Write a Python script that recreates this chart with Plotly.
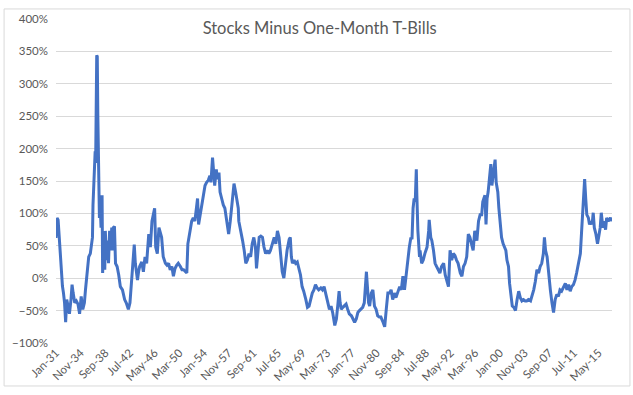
import plotly.graph_objects as go

# Months since Jan-1931 (end of 5-year window) and excess return (%)
month_offsets = [
    0, 2, 4, 6, 7, 10, 12, 14, 16, 18, 20, 23, 25, 28, 30, 32, 35, 38, 41, 44, 47, 50, 53, 55, 58,
    60, 61, 64, 66, 68, 69, 70, 72, 73, 74, 76, 77, 78, 79, 81, 82, 84, 86, 87, 89, 91, 92, 94, 96,
    98, 100, 102, 104, 105, 107, 109, 111, 114, 117, 120, 124, 128, 131, 135, 138, 141, 143, 146,
    148, 150, 152, 154, 156, 160, 163, 166, 169, 173, 176, 179, 182, 184, 186, 189, 192, 194, 197,
    200, 204, 207, 210, 213, 216, 219, 222, 225, 228, 232, 235, 238, 241, 244, 246, 248, 250, 253,
    256, 259, 263, 264, 266, 269, 272, 275, 278, 281, 284, 287, 289, 292, 294, 296, 299, 301, 304,
    306, 309, 312, 315, 318, 322, 325, 328, 332, 335, 337, 340, 341, 345, 348, 351, 354, 357, 360,
    363, 366, 369, 372, 374, 377, 379, 382, 385, 388, 391, 394, 397, 400, 403, 407, 410, 413, 416,
    419, 422, 425, 428, 431, 435, 437, 439, 441, 444, 447, 450, 453, 456, 459, 462, 466, 469, 472,
    475, 478, 481, 484, 487, 490, 494, 497, 500, 503, 506, 510, 513, 516, 520, 523, 526, 528, 530,
    532, 535, 538, 541, 544, 547, 551, 554, 557, 560, 563, 566, 569, 572, 575, 579, 580, 583, 585,
    588, 591, 594, 597, 600, 603, 606, 610, 613, 616, 619, 622, 625, 628, 631, 634, 637, 641, 644,
    647, 650, 653, 656, 659, 662, 664, 666, 668, 670, 672, 673, 675, 678, 679, 682, 685, 688, 692,
    695, 696, 699, 701, 704, 707, 710, 713, 716, 719, 723, 726, 729, 732, 735, 738, 741, 744, 747,
    750, 754, 757, 760, 763, 766, 769, 772, 775, 778, 781, 785, 788, 791, 794, 796, 798, 800, 802,
    804, 806, 809, 811, 813, 816, 818, 819, 821, 824, 826, 829, 831, 834, 836, 839, 841, 844, 846,
    849, 851, 854, 857, 860, 863, 866, 869, 872, 875, 878, 881, 885, 888, 891, 894, 897, 900, 903,
    906, 909, 911, 913, 916, 919, 922, 925, 928, 931, 934, 937, 940, 943, 947, 950, 953, 956, 959,
    962, 965, 968, 971, 974, 978, 980, 982, 984, 986, 988, 990, 993, 995, 998, 1000, 1002, 1004,
    1007, 1010, 1012, 1015, 1017, 1020, 1022, 1025, 1027, 1030, 1034, 1037,
]
excess_return_pct = [
    62, 93, 90, 60, 43, 3, -12, -23, -38, -68, -33, -45, -55, -33, -10, -23, -38, -35, -40, -55, -28, -48, -38, -18, 8,
    20, 33, 38, 53, 63, 113, 143, 188, 196, 178, 344, 342, 254, 178, 93, 123, 78, 128, 8, 53, 13, 73, 28, 58,
    23, 73, 43, 78, 43, 78, 80, 23, 18, 5, -13, -18, -33, -38, -48, -38, -3, 8, 52,
    23, 8, -3, 10, 18, 25, 10, 33, 23, 68, 48, 88, 103, 108, 48, 38, 78, 73, 63,
    33, 23, 20, 23, 13, 18, 3, 15, 20, 23, 18, 13, 13, 10, 8, 53, 68, 73, 88,
    93, 88, 118, 123, 83, 98, 108, 123, 143, 148, 151, 158, 148, 186, 168, 143, 168, 153, 163,
    133, 123, 113, 108, 93, 68, 88, 118, 146, 133, 123, 108, 88, 73, 58, 43, 23, 28, 38,
    33, 53, 63, 48, 15, 38, 63, 65, 63, 48, 38, 43, 38, 43, 53, 63, 53, 73, 63,
    33, 10, 0, 23, 43, 60, 63, 33, 23, 28, 23, 25, 13, 5, -13, -20, -33, -45, -43,
    -30, -23, -18, -10, -15, -18, -15, -18, -13, -23, -33, -48, -43, -53, -73, -63, -38, -20, -38,
    -48, -45, -43, -40, -48, -55, -58, -63, -68, -63, -53, -50, -48, -45, -38, 10, -3, -38, -43,
    -23, -18, -43, -48, -58, -60, -60, -68, -75, -48, -23, -23, -18, -33, -23, -30, -23, -13, -18,
    3, -18, 8, 28, 48, 63, 60, 108, 123, 118, 168, 128, 73, 33, 43, 23, 28, 38, 48,
    73, 90, 63, 58, 43, 23, 18, 13, 8, 18, 23, 5, -3, -13, 43, 28, 38, 35, 28,
    23, 8, 3, 18, 23, 33, 68, 63, 53, 43, 73, 58, 88, 98, 98, 118, 123, 128, 83,
    123, 133, 158, 176, 143, 168, 178, 183, 148, 133, 108, 83, 63, 53, 48, 43, 28, 18, -8,
    -33, -43, -45, -50, -33, -20, -30, -35, -33, -35, -35, -33, -35, -28, -18, -5, 13, 8, 18,
    23, 38, 63, 43, 33, 3, -18, -38, -53, -33, -25, -28, -18, -20, -13, -8, -18, -10, -20,
    -13, -10, -3, 8, 23, 38, 68, 98, 128, 153, 123, 98, 93, 83, 88, 83, 101, 78,
    68, 53, 63, 78, 101, 78, 88, 75, 93, 88, 93, 88,
]
tick_labels = [
    "Jan-31", "Nov-34", "Sep-38", "Jul-42", "May-46", "Mar-50", "Jan-54", "Nov-57", "Sep-61",
    "Jul-65", "May-69", "Mar-73", "Jan-77", "Nov-80", "Sep-84", "Jul-88", "May-92", "Mar-96",
    "Jan-00", "Nov-03", "Sep-07", "Jul-11", "May-15",
]

MONTHS = ["Jan", "Feb", "Mar", "Apr", "May", "Jun", "Jul", "Aug", "Sep", "Oct", "Nov", "Dec"]


def offset_to_date(m):
    return f"{1931 + m // 12}-{m % 12 + 1:02d}-01"


def label_to_date(lbl):
    mon, yy = lbl.split("-")
    yy = int(yy)
    year = 1900 + yy if yy > 25 else 2000 + yy
    return f"{year}-{MONTHS.index(mon) + 1:02d}-01"


dates = [offset_to_date(m) for m in month_offsets]
tick_dates = [label_to_date(l) for l in tick_labels]

grey = "#595959"
fig = go.Figure()
fig.add_trace(go.Scatter(
    x=dates, y=excess_return_pct, mode="lines",
    line=dict(color="#4472C4", width=3), hoverinfo="skip",
))

fig.update_layout(
    width=633, height=395,
    margin=dict(l=55, r=21, t=13, b=50),
    paper_bgcolor="white", plot_bgcolor="white",
    showlegend=False,
    font=dict(family="Lato, Carlito, sans-serif", color=grey, size=11.5),
    title=dict(
        text="Stocks Minus One-Month T-Bills",
        x=0.505, xref="container", xanchor="center",
        y=1 - 28 / 395, yref="container", yanchor="middle",
        font=dict(family="Lato, sans-serif", size=16.5, color=grey),
    ),
    xaxis=dict(
        type="date",
        range=[dates[0], dates[-1]],
        tickmode="array", tickvals=tick_dates, ticktext=tick_labels,
        tickangle=-45, showgrid=False, zeroline=False, showline=False,
        tickfont=dict(size=11.5, color=grey),
    ),
    yaxis=dict(
        range=[-100, 400], dtick=50, tick0=0, ticksuffix="%",
        showgrid=True, gridcolor="#D9D9D9", gridwidth=1,
        zeroline=False, showline=False,
        tickfont=dict(size=11.5, color=grey),
        ticklabelstandoff=7,
    ),
    shapes=[dict(
        type="rect", xref="paper", yref="paper",
        x0=(3 - 55) / 557, x1=(630 - 55) / 557,
        y0=(345 - 389) / 331.7, y1=(345 - 3) / 331.7,
        line=dict(color="#D9D9D9", width=1), fillcolor="rgba(0,0,0,0)", layer="below",
    )],
)

fig.write_html(
    "out.html",
    config={"displayModeBar": False},
    post_script="document.body.style.margin='0';document.body.style.padding='0';",
)
